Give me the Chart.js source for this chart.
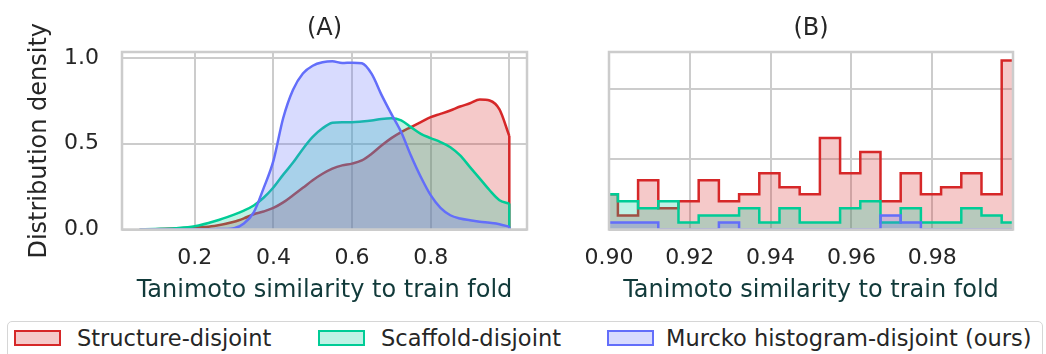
<!DOCTYPE html>
<html>
<head>
<meta charset="utf-8">
<script src="https://cdn.jsdelivr.net/npm/chart.js@4.4.1/dist/chart.umd.min.js"></script>
<style>
  html, body { margin: 0; padding: 0; background: #ffffff; }
  body { width: 1046px; height: 354px; position: relative; overflow: hidden; font-family: "DejaVu Sans", sans-serif; }
  .panel { position: absolute; top: 0; height: 310px; }
  #panelA { left: 0; width: 560px; }
  #panelB { left: 560px; width: 486px; }
  .legend-box { position: absolute; left: 7px; top: 321px; width: 1036px; height: 44px;
    border: 1.5px solid #d6d6d6; border-radius: 5px; box-sizing: border-box; background: #fff; }
  .swatch { position: absolute; top: 330px; width: 47px; height: 16px; box-sizing: border-box; border: 2px solid; }
  .label { position: absolute; top: 325px; font-size: 22.5px; line-height: 26px; color: #262626; white-space: nowrap; }
</style>
</head>
<body>
<div class="panel" id="panelA"><canvas id="chartA" width="560" height="310"></canvas></div>
<div class="panel" id="panelB"><canvas id="chartB" width="486" height="310"></canvas></div>

<div class="legend-box"></div>
<div class="swatch" id="swStructure" style="left:14px"></div>
<div class="label" style="left:77px">Structure-disjoint</div>
<div class="swatch" id="swScaffold" style="left:318px"></div>
<div class="label" style="left:381px">Scaffold-disjoint</div>
<div class="swatch" id="swMurcko" style="left:607px"></div>
<div class="label" style="left:666px">Murcko histogram-disjoint (ours)</div>

<script>
// ---- (A) kernel density estimates ----
const kdeX = [0.06, 0.10, 0.15, 0.20, 0.25, 0.30, 0.325, 0.35, 0.375, 0.40, 0.425, 0.45, 0.475, 0.50,
  0.525, 0.55, 0.575, 0.60, 0.625, 0.65, 0.675, 0.70, 0.725, 0.75, 0.775, 0.80, 0.825, 0.85, 0.875,
  0.90, 0.925, 0.95, 0.975, 1.00];
const structureKde = [0.000, 0.002, 0.006, 0.012, 0.021, 0.045, 0.065, 0.089, 0.105, 0.126, 0.158, 0.200,
  0.243, 0.287, 0.325, 0.355, 0.374, 0.384, 0.403, 0.442, 0.490, 0.533, 0.568, 0.597, 0.626, 0.655, 0.674,
  0.694, 0.717, 0.736, 0.758, 0.752, 0.700, 0.545];
const scaffoldKde = [0.000, 0.003, 0.008, 0.019, 0.048, 0.087, 0.110, 0.140, 0.185, 0.245, 0.320, 0.390,
  0.470, 0.540, 0.590, 0.622, 0.626, 0.626, 0.630, 0.636, 0.645, 0.649, 0.636, 0.597, 0.558, 0.533, 0.510,
  0.480, 0.432, 0.364, 0.297, 0.229, 0.171, 0.151];
const murckoKde = [0.000, 0.000, 0.000, 0.001, 0.002, 0.008, 0.035, 0.100, 0.240, 0.400, 0.650, 0.815,
  0.910, 0.955, 0.975, 0.981, 0.971, 0.973, 0.969, 0.907, 0.785, 0.674, 0.568, 0.430, 0.306, 0.200, 0.126,
  0.083, 0.064, 0.054, 0.045, 0.039, 0.031, 0.016];
const kdeXTicks = [0.2, 0.4, 0.6, 0.8, 1.0];
const kdeXTickLabels = ['0.2', '0.4', '0.6', '0.8', ''];
const kdeYTicks = [0.0, 0.5, 1.0];
const kdeYTickLabels = ['0.0', '0.5', '1.0'];

// ---- (B) step histograms of the 0.90 - 1.00 tail ----
const histEdges = [0.8972, 0.9022, 0.9072, 0.9122, 0.9172, 0.9222, 0.9272, 0.9322, 0.9372, 0.9422, 0.9472,
  0.9522, 0.9572, 0.9622, 0.9672, 0.9722, 0.9772, 0.9822, 0.9872, 0.9922, 0.9972, 1.0022];
const structureHist = [0.5, 0.2, 0.7, 0.3, 0.4, 0.7, 0.4, 0.5, 0.8, 0.6, 0.5, 1.3, 0.8, 1.1, 0.4, 0.8, 0.5, 0.6, 0.8, 0.5, 2.4];
const scaffoldHist  = [0.5, 0.4, 0.3, 0.4, 0.1, 0.2, 0.2, 0.3, 0.1, 0.3, 0.1, 0.1, 0.3, 0.4, 0.1, 0.3, 0.1, 0.1, 0.3, 0.2, 0.1];
const murckoHist    = [0.1, 0.1, 0.1, 0.0, 0.0, 0.0, 0.1, 0.0, 0.0, 0.0, 0.0, 0.0, 0.0, 0.0, 0.2, 0.1, 0.0, 0.0, 0.0, 0.0, 0.0];
const histXTicks = [0.90, 0.92, 0.94, 0.96, 0.98, 1.00];
const histXTickLabels = ['0.90', '0.92', '0.94', '0.96', '0.98', ''];
const histYTicks = [0, 1, 2];

const seriesNames = ['Structure-disjoint', 'Scaffold-disjoint', 'Murcko histogram-disjoint (ours)'];
const RED = '#d62728', GREEN = '#00cc96', BLUE = '#636efa';
const FILL_ALPHA = 0.25;

function withAlpha(hex, a) {
  const n = parseInt(hex.slice(1), 16);
  return `rgba(${(n >> 16) & 255},${(n >> 8) & 255},${n & 255},${a})`;
}

// legend swatches
[['swStructure', RED], ['swScaffold', GREEN], ['swMurcko', BLUE]].forEach(([id, c]) => {
  const el = document.getElementById(id);
  el.style.borderColor = c;
  el.style.background = withAlpha(c, FILL_ALPHA);
});

Chart.defaults.font.family = '"DejaVu Sans", sans-serif';
Chart.defaults.color = '#262626';

const GRID = '#cccccc';
const TEXT = '#262626';
const XTITLE = '#113a3a';

// light frame around the plotting area
const framePlugin = {
  id: 'frame',
  afterDatasetsDraw(chart) {
    const { ctx, chartArea: a } = chart;
    ctx.save();
    ctx.strokeStyle = GRID;
    ctx.lineWidth = 2.5;
    ctx.strokeRect(a.left, a.top, a.right - a.left, a.bottom - a.top);
    ctx.restore();
  }
};

function kdeCurve(name, ys, color, order) {
  return {
    label: name,
    data: kdeX.map((x, i) => ({ x, y: ys[i] })),
    borderColor: color,
    backgroundColor: withAlpha(color, FILL_ALPHA),
    fill: 'origin',
    borderWidth: 2.5,
    pointRadius: 0,
    cubicInterpolationMode: 'monotone',
    order
  };
}
// closing edge where the estimate is cut at the last sample
function kdeEdge(name, ys, color, order) {
  const last = kdeX.length - 1;
  return {
    label: name + ' edge',
    data: [{ x: kdeX[last], y: ys[last] }, { x: kdeX[last], y: 0 }],
    borderColor: color,
    fill: false,
    borderWidth: 2.5,
    pointRadius: 0,
    order
  };
}
function histSteps(name, vals, color, order) {
  return {
    label: name,
    data: histEdges.map((x, i) => ({ x, y: vals[Math.min(i, vals.length - 1)] })),
    borderColor: color,
    backgroundColor: withAlpha(color, FILL_ALPHA),
    fill: 'origin',
    stepped: true,
    borderWidth: 2.5,
    borderJoinStyle: 'miter',
    pointRadius: 0,
    order
  };
}

function xAxis(min, max, tickVals, tickLabels) {
  return {
    type: 'linear', min, max,
    afterBuildTicks: s => { s.ticks = tickVals.map(v => ({ value: v })); },
    afterFit: s => { s.height = 80.5; },
    ticks: {
      callback: (v, i) => tickLabels[i],
      font: { size: 22 }, color: TEXT, padding: 16, maxRotation: 0, autoSkip: false
    },
    grid: { color: GRID, lineWidth: 2, drawTicks: false },
    border: { display: false },
    title: {
      display: true, text: 'Tanimoto similarity to train fold',
      font: { size: 24 }, color: XTITLE, padding: { top: 0, bottom: 5 }
    }
  };
}

function commonOptions(title) {
  return {
    responsive: false,
    devicePixelRatio: 1,
    animation: false,
    events: [],
    plugins: {
      legend: { display: false },
      tooltip: { enabled: false },
      title: {
        display: true, text: title, fullSize: false,
        font: { size: 24, weight: 'normal' }, color: TEXT,
        padding: { top: 14, bottom: 9.2 }
      }
    }
  };
}

// (A)
const optsA = commonOptions('(A)');
optsA.layout = { padding: { left: 0, right: 33, top: 0, bottom: 0 } };
optsA.scales = {
  x: xAxis(0.015, 1.045, kdeXTicks, kdeXTickLabels),
  y: {
    min: 0, max: 1.035,
    afterBuildTicks: s => { s.ticks = kdeYTicks.map(v => ({ value: v })); },
    afterFit: s => { s.width = 122; },
    ticks: { callback: (v, i) => kdeYTickLabels[i], font: { size: 22 }, color: TEXT, padding: 23 },
    grid: { color: GRID, lineWidth: 2, drawTicks: false },
    border: { display: false },
    title: {
      display: true, text: 'Distribution density',
      font: { size: 24 }, color: TEXT, padding: { top: 25, bottom: 0 }
    }
  }
};
new Chart(document.getElementById('chartA'), {
  type: 'line',
  data: {
    datasets: [
      kdeCurve(seriesNames[2], murckoKde, BLUE, 1),
      kdeEdge(seriesNames[2], murckoKde, BLUE, 0),
      kdeCurve(seriesNames[1], scaffoldKde, GREEN, 3),
      kdeEdge(seriesNames[1], scaffoldKde, GREEN, 2),
      kdeCurve(seriesNames[0], structureKde, RED, 5),
      kdeEdge(seriesNames[0], structureKde, RED, 4)
    ]
  },
  options: optsA,
  plugins: [framePlugin]
});

// (B)
const optsB = commonOptions('(B)');
optsB.layout = { padding: { left: 0, right: 33, top: 0, bottom: 0 } };
optsB.scales = {
  x: xAxis(0.90, 1.00, histXTicks, histXTickLabels),
  y: {
    min: 0, max: 2.52,
    afterBuildTicks: s => { s.ticks = histYTicks.map(v => ({ value: v })); },
    afterFit: s => { s.width = 49; },
    ticks: { display: false },
    grid: { color: GRID, lineWidth: 2, drawTicks: false },
    border: { display: false }
  }
};
new Chart(document.getElementById('chartB'), {
  type: 'line',
  data: {
    datasets: [
      histSteps(seriesNames[2], murckoHist, BLUE, 0),
      histSteps(seriesNames[1], scaffoldHist, GREEN, 1),
      histSteps(seriesNames[0], structureHist, RED, 2)
    ]
  },
  options: optsB,
  plugins: [framePlugin]
});
</script>
</body>
</html>
